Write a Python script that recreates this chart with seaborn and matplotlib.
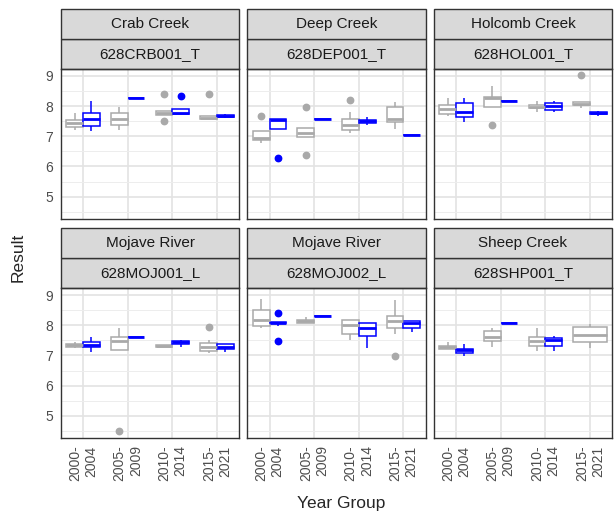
import pandas as pd
import seaborn as sns
import matplotlib.pyplot as plt
from matplotlib.patches import Rectangle

# Panels, x categories and the two box series (gray / blue)
year_groups = ["2000-\n2004", "2005-\n2009", "2010-\n2014", "2015-\n2021"]
creeks = ["Crab Creek", "Deep Creek", "Holcomb Creek", "Mojave River", "Mojave River", "Sheep Creek"]
stations = ["628CRB001_T", "628DEP001_T", "628HOL001_T", "628MOJ001_L", "628MOJ002_L", "628SHP001_T"]
groups = ["Group 1", "Group 2"]
group_colors = ["#A9A9A9", "#0000FF"]

# Box summaries: (low whisker, q1, median, q3, high whisker), one per year group
# None = no box for that year group; outliers listed separately
crb_gray = [(7.19, 7.32, 7.43, 7.54, 7.76), (7.19, 7.36, 7.57, 7.78, 7.96),
            (7.70, 7.70, 7.76, 7.82, 7.82), (7.57, 7.57, 7.60, 7.68, 7.68)]
crb_gray_out = [[], [], [8.40, 7.49], [8.41]]
crb_blue = [(7.18, 7.35, 7.58, 7.78, 8.15), (8.27, 8.27, 8.27, 8.27, 8.27),
            (7.75, 7.75, 7.77, 7.89, 7.89), (7.60, 7.63, 7.66, 7.70, 7.74)]
crb_blue_out = [[], [], [8.33], []]

dep_gray = [(6.79, 6.88, 6.93, 7.17, 7.17), (6.97, 6.97, 7.10, 7.26, 7.26),
            (7.10, 7.21, 7.37, 7.57, 7.81), (7.24, 7.46, 7.56, 7.98, 8.14)]
dep_gray_out = [[7.67], [7.96, 6.37], [8.20], []]
dep_blue = [(7.25, 7.25, 7.55, 7.58, 7.58), (7.57, 7.57, 7.57, 7.57, 7.57),
            (7.37, 7.45, 7.50, 7.55, 7.63), (7.03, 7.03, 7.03, 7.03, 7.03)]
dep_blue_out = [[6.27], [], [], []]

hol_gray = [(7.67, 7.73, 7.89, 8.05, 8.25), (7.96, 7.96, 8.27, 8.31, 8.66),
            (7.80, 7.92, 7.97, 8.03, 8.16), (7.93, 8.02, 8.07, 8.12, 8.12)]
hol_gray_out = [[], [7.37], [], [9.02]]
hol_blue = [(7.46, 7.65, 7.79, 8.09, 8.25), (8.15, 8.15, 8.15, 8.15, 8.15),
            (7.79, 7.88, 7.99, 8.10, 8.18), (7.66, 7.72, 7.76, 7.80, 7.85)]
hol_blue_out = [[], [], [], []]

moj1_gray = [(7.25, 7.29, 7.33, 7.38, 7.46), (7.18, 7.18, 7.49, 7.62, 7.90),
             (7.27, 7.29, 7.32, 7.36, 7.36), (7.07, 7.15, 7.29, 7.41, 7.52)]
moj1_gray_out = [[], [4.50], [], [7.95]]
moj1_blue = [(7.10, 7.28, 7.36, 7.43, 7.60), (7.60, 7.60, 7.60, 7.60, 7.60),
             (7.28, 7.39, 7.45, 7.49, 7.52), (7.13, 7.20, 7.28, 7.37, 7.37)]
moj1_blue_out = [[], [], [], []]

moj2_gray = [(7.90, 7.98, 8.18, 8.51, 8.87), (8.08, 8.08, 8.13, 8.18, 8.27),
             (7.52, 7.70, 8.01, 8.17, 8.17), (7.71, 7.91, 8.13, 8.29, 8.85)]
moj2_gray_out = [[], [], [], [6.97]]
moj2_blue = [(7.99, 8.06, 8.09, 8.12, 8.12), (8.29, 8.29, 8.29, 8.29, 8.29),
             (7.24, 7.65, 7.92, 8.07, 8.07), (7.77, 7.91, 8.08, 8.13, 8.13)]
moj2_blue_out = [[8.39, 7.49], [], [], []]

shp_gray = [(7.20, 7.20, 7.27, 7.32, 7.46), (7.29, 7.48, 7.62, 7.80, 7.90),
            (7.14, 7.31, 7.49, 7.62, 7.90), (7.23, 7.43, 7.69, 7.95, 8.04)]
shp_gray_out = [[], [], [], []]
shp_blue = [(7.37, 6.99, 7.17, 7.21, 7.21), (8.09, 8.09, 8.09, 8.09, 8.09),
            (7.15, 7.30, 7.50, 7.57, 7.63), None]
shp_blue_out = [[], [], [], []]

summaries = {
    "628CRB001_T": [(crb_gray, crb_gray_out), (crb_blue, crb_blue_out)],
    "628DEP001_T": [(dep_gray, dep_gray_out), (dep_blue, dep_blue_out)],
    "628HOL001_T": [(hol_gray, hol_gray_out), (hol_blue, hol_blue_out)],
    "628MOJ001_L": [(moj1_gray, moj1_gray_out), (moj1_blue, moj1_blue_out)],
    "628MOJ002_L": [(moj2_gray, moj2_gray_out), (moj2_blue, moj2_blue_out)],
    "628SHP001_T": [(shp_gray, shp_gray_out), (shp_blue, shp_blue_out)],
}

# Turn each summary into observations that give the same box (quartiles repeated)
rows = []
for station, series in summaries.items():
    for grp, (boxes, outs) in zip(groups, series):
        for yg, box, out in zip(year_groups, boxes, outs):
            if box is None:
                continue
            lo, q1, med, q3, hi = box
            vals = [lo] + [q1] * 3 + [med] * 3 + [q3] * 3 + [hi] + out
            for v in vals:
                rows.append({"station": station, "year": yg, "grp": grp, "val": v})
df = pd.DataFrame(rows)

sns.set_style("white")
plt.rcParams["font.family"] = ["Liberation Sans", "DejaVu Sans"]

fig, axes = plt.subplots(2, 3, figsize=(6.14, 5.15), dpi=100)
fig.subplots_adjust(left=0.099, right=0.997, top=0.866, bottom=0.150, wspace=0.045, hspace=0.466)

box_kws = dict(order=year_groups, width=0.75, linewidth=1.1, showcaps=False, legend=False,
               medianprops={"linewidth": 2.0})

for i, (ax, creek, station) in enumerate(zip(axes.flat, creeks, stations)):
    sub = df[df["station"] == station]
    n_grp = sub.groupby("year")["grp"].transform("nunique")
    both = sub[n_grp == 2]
    single = sub[n_grp == 1]
    for grp, col in zip(groups, group_colors):
        fl = {"marker": "o", "markerfacecolor": col, "markeredgecolor": col, "markersize": 4.6}
        part = both[both["grp"] == grp]
        if len(part):
            sns.boxplot(data=part, x="year", y="val", hue="grp", hue_order=groups, dodge=True,
                        palette={g: "white" for g in groups}, linecolor=col, flierprops=fl,
                        ax=ax, **box_kws)
        part = single[single["grp"] == grp]
        if len(part):
            sns.boxplot(data=part, x="year", y="val", color="white", linecolor=col,
                        flierprops=fl, ax=ax, **box_kws)

    ax.set_xlim(-0.5, 3.5)
    ax.set_ylim(4.275, 9.225)
    ax.set_xticks(range(4))
    ax.set_xticklabels(year_groups, rotation=90, ha="center", va="top", multialignment="right")
    ax.set_yticks([5, 6, 7, 8, 9])
    ax.set_yticks([4.5, 5.5, 6.5, 7.5, 8.5], minor=True)
    ax.set_axisbelow(True)
    ax.xaxis.grid(True, which="major", color="#E3E3E3", linewidth=1.2)
    ax.yaxis.grid(True, which="major", color="#E3E3E3", linewidth=1.2)
    ax.yaxis.grid(True, which="minor", color="#EDEDED", linewidth=0.7)
    ax.set_xlabel("")
    ax.set_ylabel("")
    for s in ax.spines.values():
        s.set_color("#333333")
        s.set_linewidth(1.0)
    ax.tick_params(axis="both", which="major", length=3.5, width=0.8, color="#333333",
                   labelsize=10, labelcolor="#4D4D4D", pad=2)
    ax.tick_params(axis="y", which="minor", length=0)
    if i < 3:
        ax.tick_params(axis="x", length=0, labelbottom=False)
    if i % 3 != 0:
        ax.tick_params(axis="y", length=0, labelleft=False)

    # two stacked facet strips
    h = 0.2
    for k, label in enumerate([station, creek]):
        y0 = 1 + k * h
        ax.add_patch(Rectangle((0, y0), 1, h, transform=ax.transAxes, facecolor="#D9D9D9",
                               edgecolor="#333333", linewidth=1.0, clip_on=False))
        ax.text(0.5, y0 + h / 2, label, transform=ax.transAxes, ha="center", va="center",
                fontsize=11, color="#1A1A1A")

fig.text(0.556, 0.008, "Year Group", ha="center", va="bottom", fontsize=12.5)
fig.text(0.018, 0.50, "Result", ha="left", va="center", rotation=90, fontsize=12.5)

plt.savefig("out.png", dpi=100)
